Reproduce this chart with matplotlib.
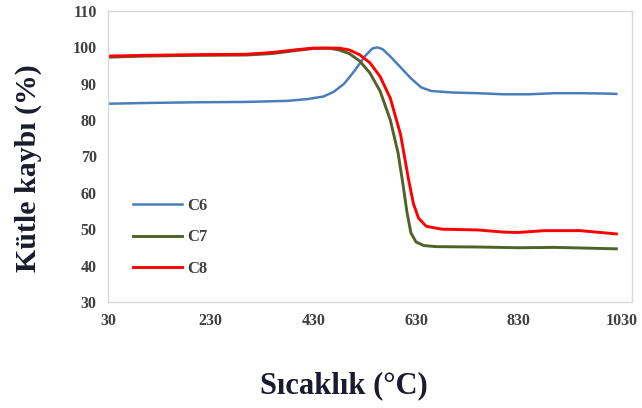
import matplotlib.pyplot as plt

# values (temperature in C, mass in %)
c6_t = [30, 100, 200, 300, 380, 420, 450, 470, 490, 510, 530, 545, 555, 565, 580,
        600, 620, 640, 660, 700, 750, 800, 850, 900, 950, 1000, 1020]
c6_m = [84.5, 84.7, 84.9, 85.0, 85.3, 85.8, 86.5, 87.8, 90.0, 93.5, 97.5, 99.7, 100.0,
        99.5, 97.5, 94.5, 91.5, 89.0, 88.0, 87.6, 87.4, 87.1, 87.1, 87.4, 87.4, 87.3, 87.2]

c7_t = [30, 100, 200, 300, 350, 400, 430, 460, 480, 500, 520, 540, 560, 580, 595,
        605, 612, 620, 630, 645, 670, 750, 830, 900, 1020]
c7_m = [97.3, 97.6, 97.8, 97.9, 98.3, 99.2, 99.7, 99.8, 99.3, 98.3, 96.3, 93.0, 88.0,
        80.0, 71.0, 62.0, 55.0, 49.0, 46.5, 45.5, 45.2, 45.1, 44.9, 45.0, 44.6]

c8_t = [30, 100, 200, 300, 350, 400, 430, 480, 500, 520, 540, 560, 580, 600, 615,
        625, 635, 650, 680, 750, 800, 830, 880, 950, 1020]
c8_m = [97.6, 97.8, 98.0, 98.1, 98.6, 99.4, 99.8, 99.8, 99.3, 98.0, 95.8, 92.0, 86.0,
        76.0, 64.0, 57.0, 53.0, 50.8, 50.0, 49.8, 49.2, 49.1, 49.6, 49.6, 48.7]

x_ticks = [30, 230, 430, 630, 830, 1030]
y_ticks = [30, 40, 50, 60, 70, 80, 90, 100, 110]

serif = 'Liberation Serif'

fig = plt.figure(figsize=(6.42, 4.08), dpi=100)
ax = fig.add_axes([0.168, 0.260, 0.816, 0.713])

ax.plot(c6_t, c6_m, color='#4a7ebb', lw=1.8, label='C6')
ax.plot(c7_t, c7_m, color='#4f6228', lw=2.1, label='C7')
ax.plot(c8_t, c8_m, color='#ff0000', lw=2.1, label='C8')

ax.set_xlim(30, 1050)
ax.set_ylim(30, 110)
ax.set_xticks(x_ticks)
ax.set_yticks(y_ticks)
ax.tick_params(length=0, pad=8, labelcolor='#404040')
for lab in ax.get_xticklabels() + ax.get_yticklabels():
    lab.set_fontfamily(serif)
    lab.set_fontweight('bold')
    lab.set_fontsize(11.5)

for s in ax.spines.values():
    s.set_color('#d9d9d9')
    s.set_linewidth(1)

leg = ax.legend(loc='upper left', bbox_to_anchor=(0.02, 0.41), frameon=False,
                prop={'family': serif, 'weight': 'bold', 'size': 12},
                handlelength=2.9, labelspacing=0.95, handletextpad=0.35)
for t in leg.get_texts():
    t.set_color('#404040')

fig.text(0.044, 0.588, 'Kütle kaybı (%)', rotation=90, ha='center', va='center',
         family=serif, weight='bold', fontsize=21.5, color='#1b1b2e')
fig.text(0.535, 0.055, 'Sıcaklık (°C)', ha='center', va='center',
         family=serif, weight='bold', fontsize=22, color='#1b1b2e')

fig.savefig('out.png', dpi=100)
